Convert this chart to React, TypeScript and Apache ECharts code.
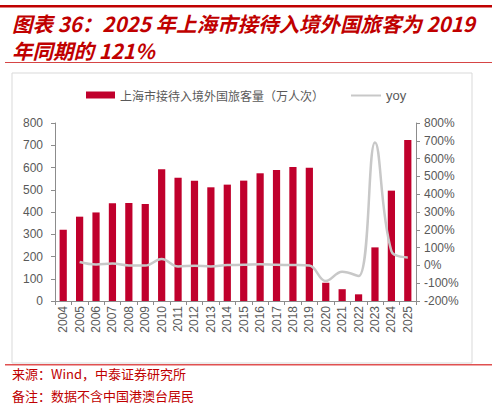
import { useEffect, useRef } from 'react'
import * as echarts from 'echarts'

// 上海市接待入境外国旅客量（万人次）与同比
const YEARS = [
  '2004', '2005', '2006', '2007', '2008', '2009', '2010', '2011', '2012', '2013', '2014',
  '2015', '2016', '2017', '2018', '2019', '2020', '2021', '2022', '2023', '2024', '2025',
]
const VISITORS = [
  320, 379, 398, 439, 440, 436, 592, 554, 541, 511, 523,
  541, 574, 589, 602, 599, 82, 53, 30, 241, 496, 724,
]
// yoy (%), 2004 has no value
const YOY: (number | null)[] = [
  null, 19, 5, 10, 0, -1, 36, -6, -2, -6, 2,
  3, 6, 3, 2, -1, -88, -36, -60, 690, 80, 45,
]
const BAR_NAME = '上海市接待入境外国旅客量（万人次）'
const LINE_NAME = 'yoy'

const RED = '#c0002c'
const TITLE_RED = '#c00000'
const GREY_LINE = '#c8c8c8'
const AXIS = '#8c8c8c'
const LABEL = '#595959'
const CJK = '"Noto Sans CJK SC", sans-serif'
const LATIN = 'Arial, "Liberation Sans", sans-serif'

export default function App() {
  const ref = useRef<HTMLDivElement>(null)

  useEffect(() => {
    const el = ref.current
    if (!el) return
    const chart = echarts.init(el, undefined, { renderer: 'svg' })
    chart.setOption({
      animation: false,
      backgroundColor: '#fff',
      textStyle: { fontFamily: LATIN },
      grid: { left: 55, right: 76, top: 123, bottom: 107, containLabel: false },
      // two legends so the bar swatch and the line swatch can have their own heights
      legend: [
        {
          left: 86,
          top: 89,
          padding: 0,
          itemWidth: 29,
          itemHeight: 7,
          textStyle: { color: LABEL, fontSize: 12, fontFamily: CJK },
          data: [{ name: BAR_NAME, icon: 'rect' }],
        },
        {
          left: 351,
          top: 89,
          padding: 0,
          itemWidth: 30,
          itemHeight: 2,
          textStyle: { color: LABEL, fontSize: 13, fontFamily: LATIN },
          data: [{ name: LINE_NAME, icon: 'rect', itemStyle: { color: GREY_LINE } }],
        },
      ],
      xAxis: {
        type: 'category',
        data: YEARS,
        axisLine: { lineStyle: { color: AXIS } },
        axisTick: { show: true, lineStyle: { color: AXIS }, length: 4 },
        axisLabel: { rotate: 90, color: LABEL, fontSize: 12, margin: 5, interval: 0 },
      },
      yAxis: [
        {
          type: 'value',
          min: 0,
          max: 800,
          interval: 100,
          axisLine: { show: true, lineStyle: { color: AXIS } },
          axisTick: { show: true, lineStyle: { color: AXIS }, length: 4 },
          axisLabel: { color: LABEL, fontSize: 12, margin: 12 },
          splitLine: { show: false },
        },
        {
          type: 'value',
          min: -200,
          max: 800,
          interval: 100,
          position: 'right',
          axisLine: { show: true, lineStyle: { color: AXIS } },
          axisTick: { show: true, lineStyle: { color: AXIS }, length: 4 },
          axisLabel: { color: LABEL, fontSize: 12, margin: 8, formatter: '{value}%' },
          splitLine: { show: false },
        },
      ],
      series: [
        {
          name: BAR_NAME,
          type: 'bar',
          data: VISITORS,
          barWidth: '44%',
          itemStyle: { color: RED },
        },
        {
          name: LINE_NAME,
          type: 'line',
          yAxisIndex: 1,
          data: YOY,
          smooth: 0.4,
          symbol: 'none',
          lineStyle: { color: GREY_LINE, width: 2.5 },
          itemStyle: { color: GREY_LINE },
        },
      ],
      graphic: [
        { type: 'rect', shape: { x: 0, y: 5, width: 492, height: 2.5 }, style: { fill: TITLE_RED } },
        {
          type: 'text',
          x: 12,
          y: 9,
          style: {
            text: '图表 36：2025 年上海市接待入境外国旅客为 2019\n年同期的 121%',
            fill: TITLE_RED,
            font: `italic bold 20.5px ${CJK}`,
            lineHeight: 27,
          },
        },
        { type: 'rect', shape: { x: 5, y: 62, width: 487, height: 1 }, style: { fill: '#d64545' } },
        {
          type: 'rect',
          shape: { x: 12, y: 73, width: 460, height: 290 },
          style: { fill: 'none', stroke: '#d9d9d9', lineWidth: 1 },
          z: -1,
        },
        { type: 'rect', shape: { x: 5, y: 364, width: 487, height: 1.5 }, style: { fill: '#e05050' } },
        {
          type: 'text',
          x: 12,
          y: 367,
          style: { text: '来源：Wind，中泰证券研究所', fill: TITLE_RED, font: `13px ${CJK}` },
        },
        {
          type: 'text',
          x: 12,
          y: 389,
          style: { text: '备注：数据不含中国港澳台居民', fill: TITLE_RED, font: `13px ${CJK}` },
        },
      ],
    })
    return () => chart.dispose()
  }, [])

  return (
    <div
      ref={ref}
      style={{ position: 'absolute', left: 0, top: 0, width: 492, height: 408 }}
    />
  )
}
